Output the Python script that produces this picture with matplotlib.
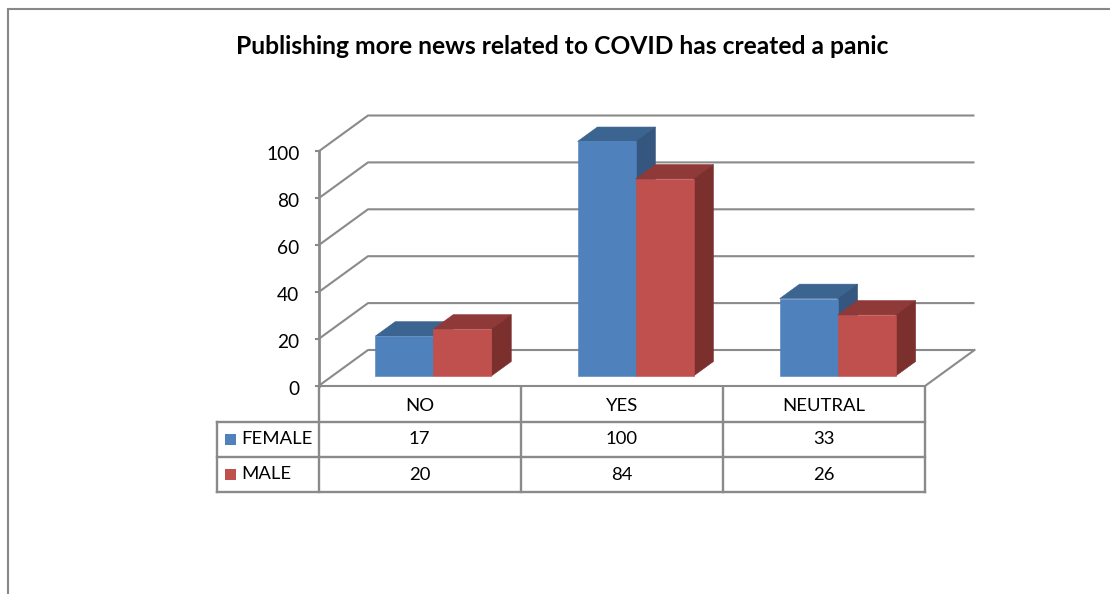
import matplotlib
matplotlib.use("Agg")
import matplotlib.pyplot as plt
from matplotlib.patches import Polygon, Rectangle

plt.rcParams['font.family'] = ['Lato', 'DejaVu Sans']

title = "Publishing more news related to COVID has created a panic"
categories = ["NO", "YES", "NEUTRAL"]
series_names = ["FEMALE", "MALE"]
female = [17, 100, 33]
male = [20, 84, 26]
yticks = [0, 20, 40, 60, 80, 100]

W, H = 1110, 594
GRAY = "#8a8a8a"
fig = plt.figure(figsize=(W / 100, H / 100), dpi=100, facecolor="white")

# overlay in pixel space for frame and table
ov = fig.add_axes([0, 0, 1, 1], zorder=0)
ov.set_xlim(0, W); ov.set_ylim(H, 0); ov.axis("off")

# plot axes: data scale
L, R, T0, T100 = 318.5, 925, 386, 151.5
ax = fig.add_axes([L / W, 1 - T0 / H, (R - L) / W, (T0 - T100) / H], zorder=1)
ax.set_xlim(0, 3); ax.set_ylim(0, 100); ax.axis("off"); ax.patch.set_alpha(0)
DX = 49.5 / ((R - L) / 3)
DY = 36 / ((T0 - T100) / 100)

def proj(x, y, d):
    return (x + d * DX, y + d * DY)

for v in yticks:
    ax.plot(*zip(proj(0, v, 0), proj(0, v, 1), proj(3, v, 1)), color=GRAY, lw=1.5, clip_on=False, zorder=1, solid_capstyle="butt")
    ax.plot([-3 / ((R - L) / 3), 0], [v, v], color=GRAY, lw=1.5, clip_on=False, zorder=1)
    ax.annotate(str(v), (0, v), xytext=(-19, -3.5), textcoords="offset pixels", ha="right", va="center", fontsize=13.8, color="black", annotation_clip=False)
ax.plot(*zip(proj(0, 0, 0), proj(3, 0, 0), proj(3, 0, 1)), color=GRAY, lw=1.5, clip_on=False, zorder=1)
ax.plot([0, 0], [0, 100], color=GRAY, lw=2, clip_on=False, zorder=1)

BW = 0.287
D0, D1 = 0.28, 0.68
palette = [("#4F81BD", "#3B6491", "#34567F"), ("#C0504D", "#8F3A38", "#7B302E")]
for s, vals in enumerate([female, male]):
    front, top, side = palette[s]
    for i, v in enumerate(vals):
        x0 = i + 0.5 - BW + s * BW
        x1 = x0 + BW
        ax.add_patch(Polygon([proj(x0, v, D0), proj(x1, v, D0), proj(x1, v, D1), proj(x0, v, D1)], closed=True, fc=top, ec=top, lw=0.4, clip_on=False, zorder=2 + s))
        ax.add_patch(Polygon([proj(x1, 0, D0), proj(x1, v, D0), proj(x1, v, D1), proj(x1, 0, D1)], closed=True, fc=side, ec=side, lw=0.4, clip_on=False, zorder=2 + s))
        ax.add_patch(Polygon([proj(x0, 0, D0), proj(x1, 0, D0), proj(x1, v, D0), proj(x0, v, D0)], closed=True, fc=front, ec=front, lw=0.4, clip_on=False, zorder=2 + s))

# frame
ov.plot([7.8, 7.8, W], [H, 8.8, 8.8], color="#888888", lw=1.5, solid_joinstyle="miter")

# title
ov.text(562, 46.5, title, ha="center", va="center", fontsize=17.7, fontweight="bold", color="black")

# data table
cols = [318.5, 521, 723, 925]
rows = [387, 421.5, 456.5, 491.5]
LEFT = 217
for x in cols:
    ov.plot([x, x], [rows[0], rows[-1]], color=GRAY, lw=1.7, solid_capstyle="projecting")
ov.plot([LEFT, LEFT], [rows[1], rows[-1]], color=GRAY, lw=1.7, solid_capstyle="projecting")
for y in rows[1:]:
    ov.plot([LEFT, cols[-1]], [y, y], color=GRAY, lw=1.7, solid_capstyle="projecting")

for i, c in enumerate(categories):
    cx = (cols[i] + cols[i + 1]) / 2
    ov.text(cx, (rows[0] + rows[1]) / 2 + 1.5, c, ha="center", va="center", fontsize=13.3)
    ov.text(cx, (rows[1] + rows[2]) / 2 + 0.5, str(female[i]), ha="center", va="center", fontsize=13.3)
    ov.text(cx, (rows[2] + rows[3]) / 2 + 1.5, str(male[i]), ha="center", va="center", fontsize=13.3)

for r, name in enumerate(series_names):
    yc = (rows[r + 1] + rows[r + 2]) / 2
    ov.add_patch(Rectangle((224.5, yc - 5.5), 11.5, 11.5, fc=palette[r][0], ec="none"))
    ov.text(241, yc, name, ha="left", va="center", fontsize=13.3)

fig.savefig("out.png", dpi=100, facecolor="white")
